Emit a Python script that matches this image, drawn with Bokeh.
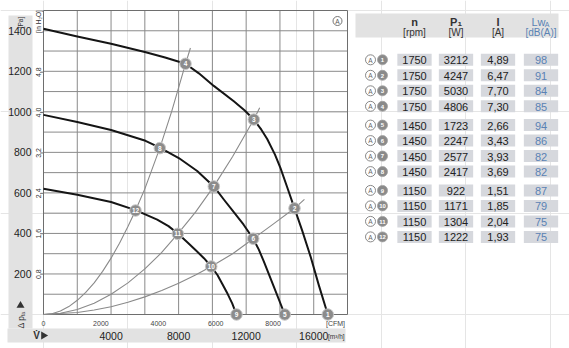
import math
from bokeh.plotting import figure
from bokeh.models import Range1d
from bokeh.core.properties import value
from bokeh.embed import file_html
from bokeh.resources import INLINE

# ---------------- data ----------------
grid_x = [2000, 4000, 6000, 8000, 10000, 12000, 14000, 16000]
grid_y = [100, 200, 300, 400, 500, 600, 700, 800, 900, 1000, 1100, 1200, 1300, 1400]
x_max = 18000
y_max = 1500

pa_ticks = [200, 400, 600, 800, 1000, 1200, 1400]
inh2o_ticks = [0.8, 1.6, 2.4, 3.2, 4.0, 4.8]
inh2o_labels = ["0.8", "1.6", "2.4", "3.2", "4.0", "4.8"]
cfm_ticks = [0, 2000, 4000, 6000, 8000]
m3h_ticks = [4000, 8000, 12000, 16000]

# fan curves (m3/h, Pa)
fan1750_x = [0, 2000, 4000, 6000, 7200, 8408, 9200, 10084, 11268, 11900, 12452, 12900, 13245, 13700,
             14033, 14430, 14862, 15318, 15809, 16301, 16834]
fan1750_y = [1410, 1372, 1336, 1295, 1268, 1237, 1190, 1128, 1052, 1008, 962, 912, 866, 790,
             722, 628, 524, 414, 287, 145, 0]
fan1450_x = [0, 2000, 4000, 6039, 6886, 8011, 9100, 10084, 10700, 11268, 11850, 12416, 12750, 13044,
             13636, 14287]
fan1450_y = [985, 950, 910, 857, 823, 772, 708, 632, 565, 505, 443, 374, 320, 262, 138, 0]
fan1150_x = [0, 2000, 4000, 5447, 6732, 7400, 7952, 8500, 9000, 9500, 9930, 10300, 10581, 10900,
             11173, 11427]
fan1150_y = [620, 591, 555, 515, 468, 436, 400, 358, 318, 278, 237, 195, 152, 102, 55, 0]

# system curves
sysA_x = [0, 500, 1000, 1500, 2000, 2500, 3000, 3500, 4000, 4500, 5000, 5447, 6000, 6886, 7600, 8408, 8700]
sysA_y = [0, 4, 17, 39, 70, 109, 156, 213, 278, 352, 434, 513, 620, 821, 1005, 1237, 1315]
sysB_x = [0, 1000, 2000, 3000, 4000, 5000, 6000, 7000, 7952, 9000, 10084, 11200, 12452, 12800]
sysB_y = [0, 6, 25, 56, 100, 156, 225, 306, 398, 505, 632, 780, 962, 1020]
sysC_x = [0, 2000, 3000, 4000, 5000, 6000, 7000, 8000, 9000, 9930, 11200, 12416, 13600, 14862, 15450]
sysC_y = [0, 10, 22, 38, 60, 87, 118, 154, 195, 237, 300, 374, 446, 524, 568]

# operating points
op_num = ["1", "2", "3", "4", "5", "6", "7", "8", "9", "10", "11", "12"]
op_x = [16834, 14862, 12452, 8408, 14287, 12416, 10084, 6886, 11427, 9930, 7952, 5447]
op_y = [0, 524, 962, 1237, 0, 374, 632, 821, 0, 237, 398, 513]

# table
tab_rpm = ["1750", "1750", "1750", "1750", "1450", "1450", "1450", "1450", "1150", "1150", "1150", "1150"]
tab_p1 = ["3212", "4247", "5030", "4806", "1723", "2247", "2577", "2417", "922", "1171", "1304", "1222"]
tab_i = ["4,89", "6,47", "7,70", "7,30", "2,66", "3,43", "3,93", "3,69", "1,51", "1,85", "2,04", "1,93"]
tab_lwa = ["98", "91", "84", "85", "94", "86", "82", "82", "87", "79", "75", "75"]

# ---------------- layout constants ----------------
W, H = 569, 348
X0_PX, Y0_PX = 43.0, 314.0
sx = 304.0 / x_max   # px per m3/h
sy = 304.0 / y_max   # px per Pa
CFM_TO_M3H = 1.699

FONT = value("Liberation Sans Narrow, Liberation Sans, sans-serif")

p = figure(width=W, height=H,
           x_range=Range1d(-X0_PX / sx, (W - X0_PX) / sx),
           y_range=Range1d(-(H - Y0_PX) / sy, Y0_PX / sy),
           output_backend="svg", toolbar_location=None,
           x_axis_location=None, y_axis_location=None, min_border=0)
p.outline_line_color = None
p.background_fill_color = "white"
p.border_fill_color = "white"
p.extra_x_ranges = {"px": Range1d(0, W)}
p.extra_y_ranges = {"px": Range1d(H, 0)}
PX = dict(x_range_name="px", y_range_name="px")
PXX = dict(x_range_name="px")
PXY = dict(y_range_name="px")

BAND = "#e2e2e2"
# left and bottom stippled bands
p.quad(left=[8], right=[32], top=[15], bottom=[328], fill_color=BAND, line_color=None, **PX)
p.quad(left=[7], right=[345], top=[328], bottom=[342], fill_color=BAND, line_color=None, **PX)

# grid
p.segment(x0=grid_x, y0=[0] * len(grid_x), x1=grid_x, y1=[y_max] * len(grid_x),
          line_color="#8a8a8a", line_width=1)
p.segment(x0=[0] * len(grid_y), y0=grid_y, x1=[x_max] * len(grid_y), y1=grid_y,
          line_color="#8a8a8a", line_width=1)
p.quad(left=[0], right=[x_max], bottom=[0], top=[y_max], fill_color=None,
       line_color="#6e6e6e", line_width=1)

# inH2O small ticks
inh2o_pa = [v * 249.09 for v in inh2o_ticks]
p.segment(x0=[-3 / sx] * len(inh2o_pa), y0=inh2o_pa, x1=[0] * len(inh2o_pa), y1=inh2o_pa,
          line_color="#6e6e6e", line_width=1)

# system curves
for xs, ys in [(sysA_x, sysA_y), (sysB_x, sysB_y), (sysC_x, sysC_y)]:
    p.line(xs, ys, line_color="#8a8a8a", line_width=1.1, line_join="round")

# fan curves
for xs, ys in [(fan1750_x, fan1750_y), (fan1450_x, fan1450_y), (fan1150_x, fan1150_y)]:
    p.line(xs, ys, line_color="#151515", line_width=2.0, line_join="round")

# operating points
p.scatter(op_x, op_y, size=11.5, marker="circle", fill_color="#8c8c8c", line_color="#c8c8c8", line_width=1)
p.text(op_x, op_y, text=op_num, text_font=FONT, text_font_size="6.5px", text_font_style="bold",
       text_color="white", text_align="center", text_baseline="middle")

# circled A in plot
p.scatter([337], [20.5], size=9, marker="circle", fill_color="white", line_color="#666666", line_width=0.9, **PX)
p.text([337], [20.8], text=["A"], text_font=FONT, text_font_size="6.5px", text_color="#555555",
       text_align="center", text_baseline="middle", **PX)

# Pa tick labels
p.text([31] * len(pa_ticks), pa_ticks, text=[str(v) for v in pa_ticks], text_font=FONT,
       text_font_size="10.5px", text_color="#222222", text_align="right", text_baseline="middle", **PXX)
# inH2O tick labels (rotated)
p.text([37.5] * len(inh2o_pa), inh2o_pa, text=inh2o_labels, angle=math.pi / 2, text_font=FONT,
       text_font_size="7px", text_color="#333333", text_align="center", text_baseline="middle", **PXX)
p.text([20], [22], text=["[Pa]"], angle=math.pi / 2, text_font=FONT, text_font_size="6.5px",
       text_color="#333333", text_align="center", text_baseline="middle", **PX)
p.text([37.5], [21], text=["[in H\u2082O]"], angle=math.pi / 2, text_font=FONT, text_font_size="6.5px",
       text_color="#333333", text_align="center", text_baseline="middle", **PX)

# delta p label with arrow
p.scatter([20], [305], marker="triangle", size=8, fill_color="#333333", line_color=None, **PX)
p.text([20], [321.5], text=["\u0394 p"], angle=math.pi / 2, text_font=FONT, text_font_size="8.5px",
       text_color="#333333", text_align="center", text_baseline="middle", **PX)
p.text([22.5], [313.5], text=["fa"], angle=math.pi / 2, text_font=FONT, text_font_size="5.5px",
       text_color="#333333", text_align="center", text_baseline="middle", **PX)

# CFM labels
cfm_m3h = [v * CFM_TO_M3H for v in cfm_ticks]
p.text(cfm_m3h, [322.5] * len(cfm_m3h), text=[str(v) for v in cfm_ticks], text_font=FONT,
       text_font_size="7px", text_color="#444444", text_align="center", text_baseline="middle", **PXY)
p.text([335], [322.5], text=["[CFM]"], text_font=FONT, text_font_size="7px", text_color="#444444",
       text_align="center", text_baseline="middle", **PX)

# m3/h labels
p.text(m3h_ticks, [335] * len(m3h_ticks), text=[str(v) for v in m3h_ticks], text_font=FONT,
       text_font_size="10.5px", text_color="#222222", text_align="center", text_baseline="middle", **PXY)
p.text([327.5], [336], text=["[m\u00b3/h]"], text_font=FONT, text_font_size="6.5px", text_color="#333333",
       text_align="left", text_baseline="middle", **PX)
p.text([36], [335], text=["V\u0307"], text_font=FONT, text_font_size="10px", text_font_style="bold",
       text_color="#333333", text_align="center", text_baseline="middle", **PX)
p.scatter([43], [335], marker="triangle", angle=-math.pi / 2, size=8, fill_color="#333333", line_color=None, **PX)

# ---------------- table ----------------
p.quad(left=[355], right=[558], top=[13], bottom=[37], fill_color=BAND, line_color=None, **PX)
col_x = [414, 455.5, 497.5, 540.5]
col_w = 34.3
HEAD = "#333333"
BLUE = "#5a82b4"
p.text(col_x[:3], [21, 21, 21], text=["n", "P\u2081", "I"], text_font=FONT, text_font_size="11px",
       text_font_style="bold", text_color=HEAD, text_align="center", text_baseline="middle", **PX)
p.text(col_x[:3], [32, 32, 32], text=["[rpm]", "[W]", "[A]"], text_font=FONT, text_font_size="10px",
       text_color=HEAD, text_align="center", text_baseline="middle", **PX)
p.text([538], [21], text=["Lw"], text_font=FONT, text_font_size="11px", text_color=BLUE,
       text_align="center", text_baseline="middle", **PX)
p.text([546.5], [24], text=["A"], text_font=FONT, text_font_size="7px", text_color=BLUE,
       text_align="center", text_baseline="middle", **PX)
p.text([540.5], [32], text=["[dB(A)]"], text_font=FONT, text_font_size="10px", text_color=BLUE,
       text_align="center", text_baseline="middle", **PX)

row_y = []
for i in range(len(tab_rpm)):
    g, r = divmod(i, 4)
    row_y.append(59.3 + g * 65.3 + r * 15.5)

for cx, vals, col in zip(col_x, [tab_rpm, tab_p1, tab_i, tab_lwa], ["#222222", "#222222", "#222222", BLUE]):
    p.rect([cx] * len(row_y), row_y, width=col_w, height=12, fill_color="#d6d8dd", line_color=None, **PX)
    p.text([cx] * len(row_y), [y + 0.5 for y in row_y], text=vals, text_font=FONT, text_font_size="11px",
           text_color=col, text_align="center", text_baseline="middle", **PX)

p.scatter([370] * len(row_y), row_y, size=10, marker="circle", fill_color="white", line_color="#7a7a7a",
          line_width=0.9, **PX)
p.text([370] * len(row_y), [y + 0.3 for y in row_y], text=["A"] * len(row_y), text_font=FONT,
       text_font_size="6.5px", text_color="#666666", text_align="center", text_baseline="middle", **PX)
p.scatter([382] * len(row_y), row_y, size=10, marker="circle", fill_color="#8a8a8a", line_color="#a0a0a0",
          line_width=0.8, **PX)
p.text([382] * len(row_y), [y + 0.3 for y in row_y], text=op_num, text_font=FONT, text_font_size="6px",
       text_font_style="bold", text_color="white", text_align="center", text_baseline="middle", **PX)

open("out.html", "w").write(file_html(p, INLINE))
